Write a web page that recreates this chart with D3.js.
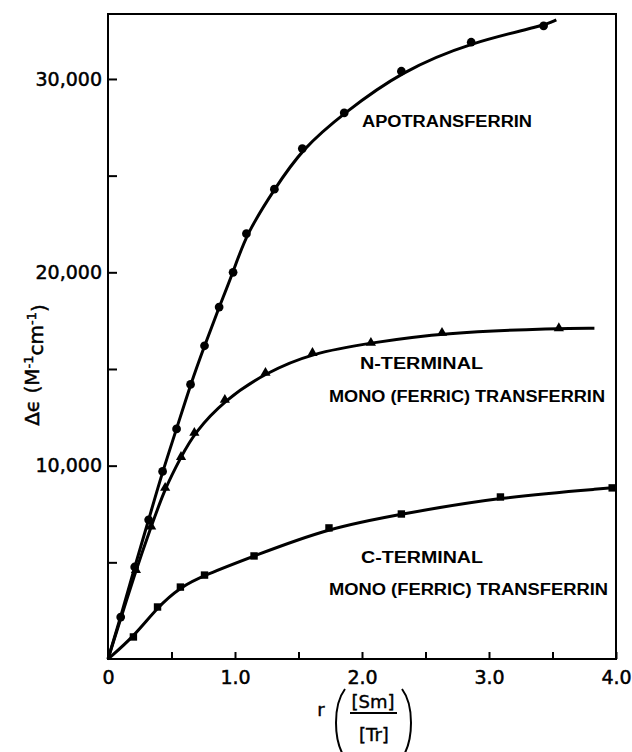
<!DOCTYPE html>
<html>
<head>
<meta charset="utf-8">
<script src="https://cdn.jsdelivr.net/npm/d3@7"></script>
<style>
body { margin: 0; background: #fff; }
</style>
</head>
<body>
<div id="chart"></div>
<script>
// Data: r = [Sm]/[Tr], delta epsilon (M-1 cm-1)
const apoR = [0.10, 0.21, 0.32, 0.43, 0.54, 0.65, 0.76, 0.875, 0.985, 1.09, 1.31, 1.53, 1.86, 2.31, 2.86, 3.43];
const apoE = [2170, 4760, 7200, 9700, 11900, 14200, 16200, 18200, 20000, 22000, 24300, 26400, 28250, 30400, 31900, 32750];
const apoEnd = [3.53, 33060];

const nR = [0.22, 0.34, 0.45, 0.575, 0.68, 0.92, 1.24, 1.61, 2.07, 2.63, 3.55];
const nE = [4600, 6850, 8850, 10450, 11700, 13400, 14800, 15830, 16350, 16870, 17110];
const nEnd = [3.83, 17110];

const cR = [0.20, 0.39, 0.57, 0.76, 1.15, 1.74, 2.31, 3.09, 3.97];
const cE = [1140, 2690, 3720, 4340, 5330, 6780, 7500, 8380, 8850];
const cEnd = [4.0, 8870];

const xTicks = [0, 0.5, 1.0, 1.5, 2.0, 2.5, 3.0, 3.5, 4.0];
const xTickLabels = ["0", "", "1.0", "", "2.0", "", "3.0", "", "4.0"];
const yTicks = [5000, 10000, 15000, 20000, 25000, 30000];
const yTickLabels = ["", "10,000", "", "20,000", "", "30,000"];

const width = 632;
const height = 752;
const margin = { top: 14, right: 16, bottom: 93, left: 108 };

const svg = d3.select("#chart")
    .append("svg")
    .attr("width", width)
    .attr("height", height);

const x = d3.scaleLinear().domain([0, 4]).range([margin.left, width - margin.right]);
const y = d3.scaleLinear().domain([0, 33360]).range([height - margin.bottom, margin.top]);

// Frame
svg.append("rect")
    .attr("x", x(0))
    .attr("y", y(33360))
    .attr("width", x(4) - x(0))
    .attr("height", y(0) - y(33360))
    .attr("fill", "none")
    .attr("stroke", "#000")
    .attr("stroke-width", 2);

// Axes (ticks point inward)
const xAxis = svg.append("g")
    .attr("transform", `translate(0,${y(0)})`)
    .call(d3.axisBottom(x)
        .tickValues(xTicks)
        .tickSize(-7)
        .tickPadding(12)
        .tickFormat((d, i) => xTickLabels[i]));

const yAxis = svg.append("g")
    .attr("transform", `translate(${x(0)},0)`)
    .call(d3.axisLeft(y)
        .tickValues(yTicks)
        .tickSize(-9)
        .tickPadding(6)
        .tickFormat((d, i) => yTickLabels[i]));

[xAxis, yAxis].forEach(g => {
    g.select(".domain").remove();
    g.selectAll(".tick line").attr("stroke", "#000").attr("stroke-width", 2);
    g.selectAll(".tick text")
        .attr("fill", "#000")
        .attr("stroke", "#000")
        .attr("stroke-width", 0.5)
        .style("font-family", "'DejaVu Sans', sans-serif")
        .style("font-size", "19px");
});

// Curves and markers
const line = d3.line()
    .x(d => x(d[0]))
    .y(d => y(d[1]))
    .curve(d3.curveBasis);

const series = [
    { r: apoR, e: apoE, end: apoEnd, symbol: d3.symbolCircle, size: 60 },
    { r: nR, e: nE, end: nEnd, symbol: d3.symbolTriangle, size: 45 },
    { r: cR, e: cE, end: cEnd, symbol: d3.symbolSquare, size: 55 }
];

series.forEach(s => {
    const pts = s.r.map((r, i) => [r, s.e[i]]);
    svg.append("path")
        .datum([[0, 0], ...pts, s.end])
        .attr("d", line)
        .attr("fill", "none")
        .attr("stroke", "#000")
        .attr("stroke-width", 3);

    svg.append("g")
        .selectAll("path")
        .data(pts)
        .join("path")
        .attr("transform", d => `translate(${x(d[0])},${y(d[1])})`)
        .attr("d", d3.symbol().type(s.symbol).size(s.size))
        .attr("fill", "#000");
});

// Curve labels
const labels = [
    { text: "APOTRANSFERRIN", x: 362, y: 127, len: 170 },
    { text: "N-TERMINAL", x: 360, y: 369, len: 123 },
    { text: "MONO (FERRIC) TRANSFERRIN", x: 329, y: 402, len: 276 },
    { text: "C-TERMINAL", x: 361, y: 563, len: 122 },
    { text: "MONO (FERRIC) TRANSFERRIN", x: 329, y: 595, len: 279 }
];

svg.selectAll(".curvelabel")
    .data(labels)
    .join("text")
    .attr("class", "curvelabel")
    .attr("x", d => d.x)
    .attr("y", d => d.y)
    .attr("textLength", d => d.len)
    .attr("lengthAdjust", "spacingAndGlyphs")
    .style("font-family", "'Liberation Sans', Arial, sans-serif")
    .style("font-weight", "bold")
    .style("font-size", "16px")
    .text(d => d.text);

// Y axis title
const yTitle = svg.append("text")
    .attr("transform", "translate(39,365) rotate(-90)")
    .attr("text-anchor", "middle")
    .attr("stroke", "#000")
    .attr("stroke-width", 0.5)
    .style("font-family", "'DejaVu Sans', sans-serif")
    .style("font-size", "20px");
yTitle.append("tspan").text("\u0394\u03F5 (M");
yTitle.append("tspan").attr("dy", "-0.5em").style("font-size", "13px").text("-1");
yTitle.append("tspan").attr("dy", "0.5em").text("cm");
yTitle.append("tspan").attr("dy", "-0.5em").style("font-size", "13px").text("-1");
yTitle.append("tspan").attr("dy", "0.5em").text(")");

// X axis title: r ( [Sm] / [Tr] )
const xTitle = svg.append("g")
    .attr("stroke", "#000")
    .attr("stroke-width", 0.4)
    .style("font-family", "'DejaVu Sans', sans-serif")
    .style("font-size", "18px");
xTitle.append("text").attr("x", 321).attr("y", 716).attr("text-anchor", "middle").text("r");
xTitle.append("text").attr("x", 373).attr("y", 708).attr("text-anchor", "middle").text("[Sm]");
xTitle.append("line")
    .attr("x1", 350).attr("x2", 397)
    .attr("y1", 713).attr("y2", 713)
    .attr("stroke-width", 2);
xTitle.append("text").attr("x", 374).attr("y", 741).attr("text-anchor", "middle").text("[Tr]");
xTitle.append("path")
    .attr("d", "M345,689 C333,705 333,740 345,758")
    .attr("fill", "none").attr("stroke-width", 2);
xTitle.append("path")
    .attr("d", "M402,689 C414,705 414,740 402,758")
    .attr("fill", "none").attr("stroke-width", 2);
</script>
</body>
</html>
